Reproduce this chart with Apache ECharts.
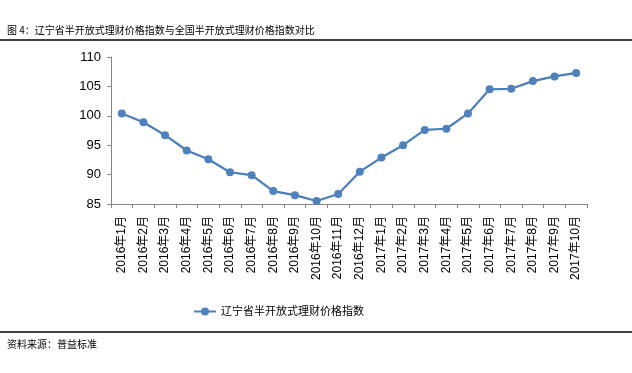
<!DOCTYPE html>
<html><head><meta charset="utf-8">
<script src="https://cdn.jsdelivr.net/npm/echarts@6/dist/echarts.min.js"></script>
<style>html,body{margin:0;padding:0;background:#fff}#c{width:632px;height:373px}</style>
</head><body><div id="c"></div>
<script>
var categories = ['2016年1月','2016年2月','2016年3月','2016年4月','2016年5月','2016年6月','2016年7月','2016年8月','2016年9月','2016年10月','2016年11月','2016年12月','2017年1月','2017年2月','2017年3月','2017年4月','2017年5月','2017年6月','2017年7月','2017年8月','2017年9月','2017年10月'];
var values = [100.4, 98.9, 96.7, 94.1, 92.6, 90.4, 89.9, 87.2, 86.5, 85.5, 86.7, 90.5, 92.9, 95.0, 97.6, 97.8, 100.4, 104.5, 104.6, 105.9, 106.7, 107.3];
var seriesName = '辽宁省半开放式理财价格指数';
var titleText = '图 4：辽宁省半开放式理财价格指数与全国半开放式理财价格指数对比';
var sourceText = '资料来源：普益标准';
var FONT = '"Liberation Sans", "Noto Sans CJK SC", sans-serif';
var chart = echarts.init(document.getElementById('c'), null, {renderer:'canvas'});
chart.setOption({
  animation:false,
  textStyle:{fontFamily:FONT},
  grid:{left:111, right:45, top:57, bottom:169, containLabel:false},
  xAxis:{type:'category', data:categories, boundaryGap:true,
    axisLine:{lineStyle:{color:'#868686', width:1}},
    axisTick:{show:true, length:4, alignWithLabel:false, lineStyle:{color:'#868686'}},
    axisLabel:{rotate:90, interval:0, margin:12, fontSize:12, color:'#000', fontFamily:FONT}},
  yAxis:{type:'value', min:85, max:110, interval:5,
    splitLine:{show:false},
    axisLine:{show:true, lineStyle:{color:'#868686', width:1}},
    axisTick:{show:true, length:4, lineStyle:{color:'#868686'}},
    axisLabel:{fontSize:13, color:'#000', margin:10, fontFamily:FONT}},
  legend:{data:[seriesName], left:188, top:301, itemWidth:22, itemHeight:10, itemGap:4,
    textStyle:{fontSize:11, color:'#000', fontFamily:FONT}},
  series:[{name:seriesName, type:'line', data:values, symbol:'circle', symbolSize:8,
    lineStyle:{color:'#4A7EBB', width:2.2}, itemStyle:{color:'#4F81BD'}}],
  graphic:[
    {type:'text', left:7, top:25, style:{text:titleText, font:'10px "Noto Sans CJK SC", sans-serif', fill:'#000'}},
    {type:'line', shape:{x1:0,y1:40,x2:632,y2:40}, style:{stroke:'#000', lineWidth:1.5}},
    {type:'line', shape:{x1:0,y1:332,x2:632,y2:332}, style:{stroke:'#000', lineWidth:1.5}},
    {type:'text', left:7, top:339, style:{text:sourceText, font:'10px "Noto Sans CJK SC", sans-serif', fill:'#000'}}
  ]
});
</script></body></html>
